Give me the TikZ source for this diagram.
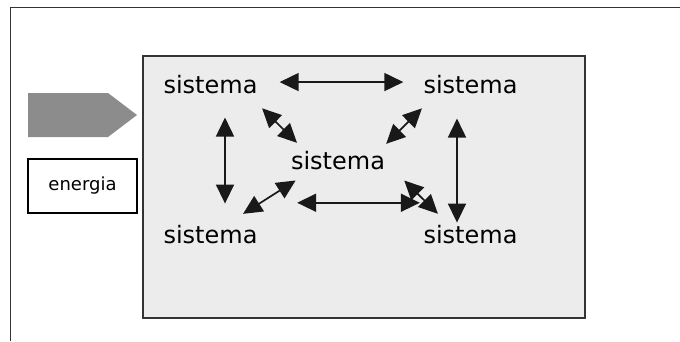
\documentclass[tikz,border=0pt]{standalone}
\usepackage{fontspec}
\setmainfont{DejaVu Sans}
\usetikzlibrary{arrows.meta,positioning}

\begin{document}
\begin{tikzpicture}[x=1pt,y=-1pt,
  sys/.style={inner sep=0pt,anchor=base,font=\fontsize{24}{24}\selectfont},
  link/.style={{Triangle[length=19pt,width=18pt]}-{Triangle[length=19pt,width=18pt]},line width=1.7pt,black!90}]
\useasboundingbox (0,0) rectangle (680,341);
% outer frame, open to the right and bottom
\draw[line width=0.9pt,black!80] (10,341) -- (10,7) -- (680,7);
% environment
\draw[line width=1.1pt,black!80,fill=gray!15] (143,56) rectangle (585,318);
% energy flowing in
\fill[black!45] (28,93) -- (108,93) -- (137,115) -- (108,137) -- (28,137) -- cycle;
\node[draw,line width=1.1pt,minimum width=109pt,minimum height=54pt,font=\fontsize{18}{18}\selectfont] (en) at (82.5,186) {energia};
% the systems
\node[sys] (tl) at (210.5,93) {sistema}; \node[sys] (tr) at (470.5,93) {sistema};
\node[sys] (c) at (338,169) {sistema};
\node[sys] (bl) at (210.5,243) {sistema}; \node[sys] (br) at (470.5,243) {sistema};
% exchanges between them
\draw[link,shorten <=22pt,shorten >=20pt] ([yshift=2pt]tl.east) -- ([yshift=2pt]tr.west);
\draw[link,shorten <=24pt,shorten >=21pt] ([xshift=14.5pt]tl.south) -- ([xshift=14.5pt]bl.north);
\draw[link,shorten <=25pt,shorten >=2pt] ([xshift=-13.5pt]tr.south) -- ([xshift=-13.5pt]br.north);
\draw[link,shorten <=39.5pt,shorten >=3.5pt] ([yshift=21.8pt]bl.north east) -- ([yshift=21.8pt]br.north west);
\draw[link,shorten <=21pt,shorten >=11pt] ([xshift=-10.5pt]tl.south east) -- ([xshift=14pt]c.north west);
\draw[link,shorten <=21pt,shorten >=9.6pt] ([xshift=13.5pt]tr.south west) -- ([xshift=-5.8pt]c.north east);
\draw[link,shorten <=20.4pt,shorten >=20pt] ([xshift=22pt]c.south west) -- ([xshift=15.7pt]bl.north);
\draw[link,shorten <=15.6pt,shorten >=15.3pt] ([xshift=8pt]c.south east) -- ([xshift=-21.7pt]br.north);
\end{tikzpicture}
\end{document}
